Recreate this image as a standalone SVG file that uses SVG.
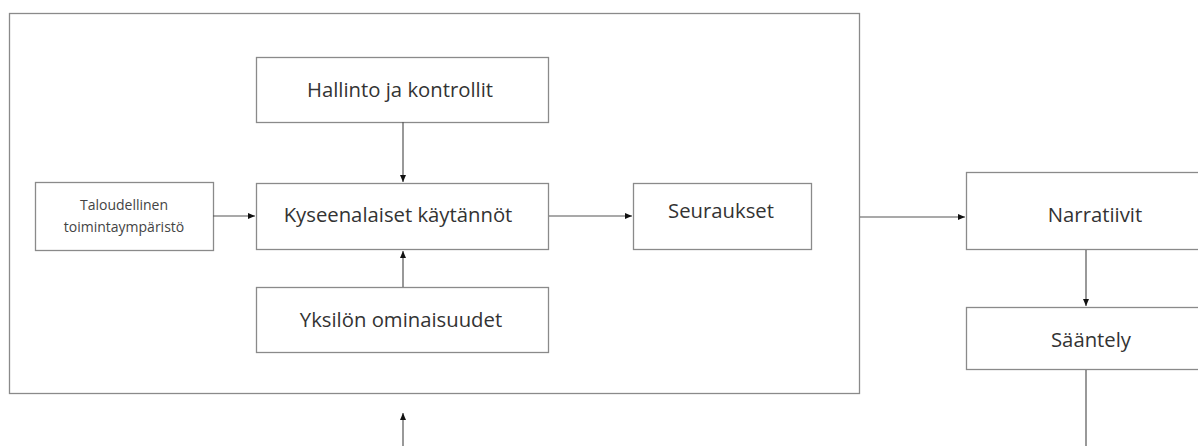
<svg xmlns="http://www.w3.org/2000/svg" width="1198" height="446" viewBox="0 0 1198 446">
<defs>
<style>
.box{fill:#fff;stroke:#8a8a8a;stroke-width:1.3}
.outer{fill:none;stroke:#8a8a8a;stroke-width:1.3}
.t{font-family:"Open Sans","Liberation Sans",sans-serif;font-size:20.3px;fill:#333;text-anchor:middle}
.s{font-family:"Open Sans","Liberation Sans",sans-serif;font-size:14px;fill:#444;text-anchor:middle}
.c{fill:none;stroke:#555;stroke-width:1.2}
</style>
<marker id="ah" markerWidth="8" markerHeight="8" refX="7" refY="4" orient="auto" markerUnits="userSpaceOnUse">
<path d="M0,1 L7,4 L0,7 Z" fill="#111"/>
</marker>
</defs>
<rect width="1198" height="446" fill="#fff"/>
<g id="outer"><rect class="outer" x="9.5" y="13.5" width="850" height="380"/></g>
<g id="hallinto"><rect class="box" x="256.5" y="57.5" width="292" height="65"/><text class="t" x="400" y="97">Hallinto ja kontrollit</text></g>
<g id="kyseenalaiset"><rect class="box" x="256.5" y="183.5" width="292" height="66"/><text class="t" x="398" y="222">Kyseenalaiset käytännöt</text></g>
<g id="yksilon"><rect class="box" x="256.5" y="287.5" width="292" height="65"/><text class="t" x="401" y="327">Yksilön ominaisuudet</text></g>
<g id="taloudellinen"><rect class="box" x="35.5" y="182.5" width="178" height="68"/><text class="s" x="124" y="210">Taloudellinen</text><text class="s" x="124" y="232">toimintaympäristö</text></g>
<g id="seuraukset"><rect class="box" x="633.5" y="183.5" width="178" height="66"/><text class="t" x="721" y="218">Seuraukset</text></g>
<g id="narratiivit"><rect class="box" x="966.5" y="172.5" width="258" height="77"/><text class="t" x="1095" y="222">Narratiivit</text></g>
<g id="saantely"><rect class="box" x="966.5" y="307.5" width="258" height="62"/><text class="t" x="1091" y="347">Sääntely</text></g>
<g id="connectors">
<line class="c" x1="403" y1="122" x2="403" y2="182" marker-end="url(#ah)"/>
<line class="c" x1="403" y1="287" x2="403" y2="251" marker-end="url(#ah)"/>
<line class="c" x1="213" y1="216" x2="255" y2="216" marker-end="url(#ah)"/>
<line class="c" x1="549" y1="216" x2="632" y2="216" marker-end="url(#ah)"/>
<line class="c" x1="860" y1="217" x2="965" y2="217" marker-end="url(#ah)"/>
<line class="c" x1="1086" y1="250" x2="1086" y2="306" marker-end="url(#ah)"/>
<line class="c" x1="1086" y1="370" x2="1086" y2="446"/>
<line class="c" x1="403" y1="446" x2="403" y2="413" marker-end="url(#ah)"/>
</g>
</svg>
